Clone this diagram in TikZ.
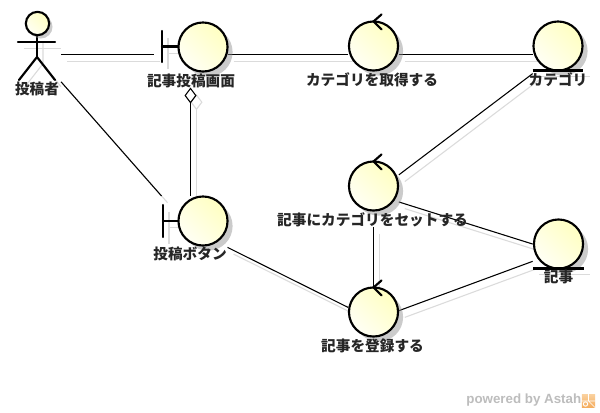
\documentclass[tikz,border=0pt]{standalone}
\usepackage{fontspec}
\setmainfont{Noto Sans CJK JP}
\newfontfamily\markfont{Liberation Sans}
\usetikzlibrary{arrows.meta,positioning,shadows}
\definecolor{iconlight}{rgb}{1.0, 1.0, 0.96}
\definecolor{icondeep}{rgb}{1.0, 1.0, 0.76}
\definecolor{shadegray}{rgb}{0.86, 0.86, 0.86}
\definecolor{markgray}{rgb}{0.74, 0.74, 0.74}
\definecolor{markorange}{rgb}{0.96, 0.67, 0.36}
\definecolor{markpale}{rgb}{0.98, 0.82, 0.62}
\tikzset{
	elembox/.style={minimum width=#1,minimum height=49.5,inner sep=0pt,outer sep=0pt},
	iconline/.style={line width=1.6pt,line cap=round},
	conn/.style={line width=0.8pt},
	connshade/.style={draw=shadegray,line width=0.8pt,transform canvas={xshift=4.5pt,yshift=-5pt}},
	aggtip/.style={{Diamond[open,length=12pt,width=9pt]}-},
	robustbase/.style={circle,draw,line width=1.6pt,inner sep=0pt,outer sep=0pt,
		left color=iconlight,right color=icondeep,shading angle=135},
	robust/.style={robustbase,minimum size=36.8pt,
		drop shadow={shadow xshift=3.8pt,shadow yshift=-3.8pt,fill=black!45,opacity=0.45}},
	caption/.style={font=\fontsize{11}{11}\selectfont\bfseries,text=black!85,inner sep=0pt}
}
\begin{document}
\begin{tikzpicture}[x=0.75pt,y=-0.75pt]
	\path[use as bounding box,fill=white] (0,0) rectangle (600,412);

	% Invisible boxes round icon and caption. The connectors stop at their edges.
	\node [elembox=36pt] (actor) at (37,54.5) {};
	\node [elembox=55.5pt] (bndpost) at (190.5,54.5) {};
	\node [elembox=55.5pt] (bndbtn) at (190.5,229) {};
	\node [elembox=38pt] (ctlget) at (373.5,54.5) {};
	\node [elembox=38pt] (ctlset) at (373.5,194) {};
	\node [elembox=38pt] (ctlreg) at (373.5,320) {};
	\node [elembox=38pt] (entcat) at (558,54.5) {};
	\node [elembox=38pt] (entart) at (558,252) {};

	% Shadows of the connectors.
	\foreach \from/\to in {actor/bndpost,actor/bndbtn,bndpost/ctlget,ctlget/entcat,entcat/ctlset,ctlset/entart,ctlset/ctlreg,bndbtn/ctlreg,ctlreg/entart}
		\draw [connshade] (\from) -- (\to);
	\draw [connshade,aggtip] (bndpost) -- (bndbtn);
	\draw [connshade] (18,42) -- (55,42);
	\draw [connshade] (37,35) -- (37,57) (19,80) -- (37,57) -- (55,80);
	\draw [connshade] (162,31) -- (162,62) (162,46.5) -- (178,46.5);
	\draw [connshade] (163,205) -- (163,237) (163,221) -- (178,221);
	\draw [connshade] (533,70) -- (584,70);
	\draw [connshade] (533,268) -- (584,268);

	% Connectors.
	\draw [conn] (actor) -- (bndpost);
	\draw [conn] (actor) -- (bndbtn);
	\draw [conn] (bndpost) -- (ctlget);
	\draw [conn] (ctlget) -- (entcat);
	\draw [conn,aggtip] (bndpost) -- (bndbtn);
	\draw [conn] (entcat) -- (ctlset);
	\draw [conn] (ctlset) -- (entart);
	\draw [conn] (ctlset) -- (ctlreg);
	\draw [conn] (bndbtn) -- (ctlreg);
	\draw [conn] (ctlreg) -- (entart);

	% Actor.
	\draw [iconline] (18,42) -- (55,42);
	\draw [iconline] (37,35) -- (37,57);
	\draw [iconline] (19,80) -- (37,57) -- (55,80);
	\node [robustbase,minimum size=17.5pt,drop shadow={shadow xshift=2.5pt,shadow yshift=-2.5pt,fill=black!45,opacity=0.45}] (head) at (37.5,23.5) {};

	% Boundaries.
	\draw [iconline] (162,31) -- (162,62) (162,46.5) -- (178,46.5);
	\draw [iconline] (163,205) -- (163,237) (163,221) -- (178,221);
	\node [robust] (postcirc) at (203,47) {};
	\node [robust] (btncirc) at (203,221) {};

	% Controls, with the open arrow on top of the circle.
	\node [robust] (getcirc) at (373.5,46) {};
	\node [robust] (setcirc) at (373.5,186) {};
	\node [robust] (regcirc) at (373.5,312) {};
	\foreach \ctl in {getcirc,setcirc,regcirc}
		\draw [iconline] ([shift={(8,-7)}]\ctl.north) -- (\ctl.north) -- ([shift={(8,8)}]\ctl.north);

	% Entities, with the line under the circle.
	\node [robust] (catcirc) at (558,46) {};
	\node [robust] (artcirc) at (558.5,244) {};
	\foreach \ent in {catcirc,artcirc}
		\draw [iconline,line cap=butt] ([xshift=-19pt]\ent.south) -- ([xshift=19pt]\ent.south);

	% Captions.
	\node [caption] (lblactor) at (37,89) {投稿者};
	\node [caption] (lblpost) at (191,81) {記事投稿画面};
	\node [caption] (lblbtn) at (190,254) {投稿ボタン};
	\node [caption] (lblget) at (372,80) {カテゴリを取得する};
	\node [caption] (lblset) at (372.5,220) {記事にカテゴリをセットする};
	\node [caption] (lblreg) at (372.5,346) {記事を登録する};
	\node [caption] (lblcat) at (558,80) {カテゴリ};
	\node [caption] (lblart) at (558.5,277) {記事};

	% Footer mark.
	\node [font=\markfont\bfseries\fontsize{10}{10}\selectfont,text=markgray,inner sep=0pt,anchor=east] (mark) at (581.5,400.5) {powered by Astah};
	\node [top color=markpale,bottom color=markorange,minimum size=10pt,inner sep=0pt] (logo) at (588.5,401) {};
	\draw [white,line width=0.5pt] (logo.north) -- (logo.center) (logo.west) -- (logo.east) (logo.center) -- (logo.south east);
	\draw [white,line width=0.7pt] ([shift={(-3,3)}]logo.center) circle (2.2);
\end{tikzpicture}
\end{document}
